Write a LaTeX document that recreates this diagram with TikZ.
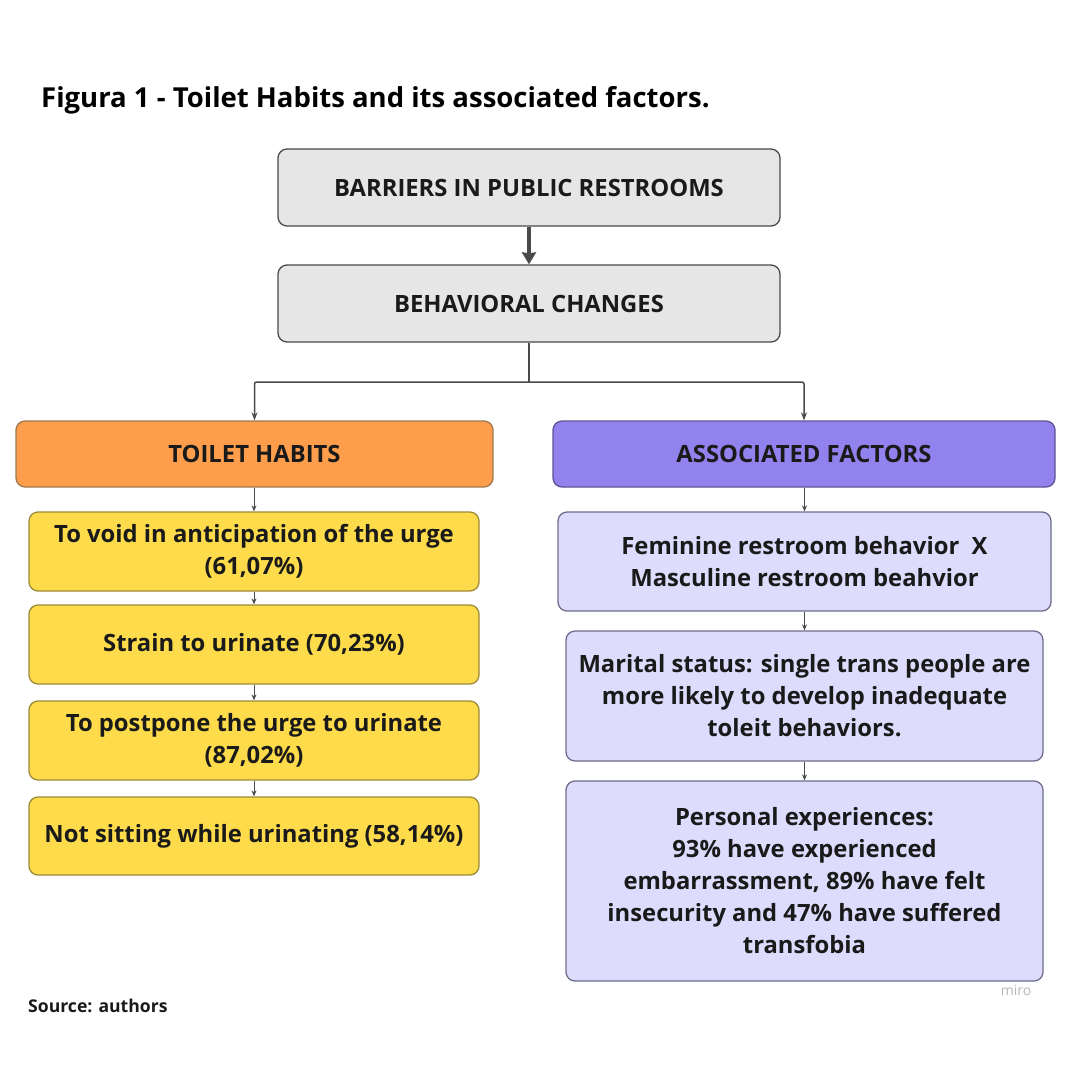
\documentclass[tikz,border=0pt]{standalone}
\usepackage{fontspec}
\setmainfont{Open Sans}[BoldFont={Open Sans Bold}]
\usetikzlibrary{arrows.meta,positioning}
\definecolor{bordergray}{HTML}{4A4A4A}
\definecolor{boxgray}{HTML}{E6E6E6}
\definecolor{orangefill}{HTML}{FE9E4C}
\definecolor{orangeline}{HTML}{A0784F}
\definecolor{purplefill}{HTML}{9282EE}
\definecolor{purpleline}{HTML}{5E5494}
\definecolor{yellowfill}{HTML}{FDDB4A}
\definecolor{yellowline}{HTML}{9E8A3A}
\definecolor{lilacfill}{HTML}{DEDCFD}
\definecolor{lilacline}{HTML}{6E6C8C}
\definecolor{txt}{HTML}{1A1A1A}
\begin{document}
\begin{tikzpicture}[x=1pt,y=-1pt,
  boxbase/.style={rounded corners=9pt,line width=1.3pt,inner sep=0pt,align=center,text=txt,
    font=\bfseries\fontsize{23.8}{32}\selectfont},
  topbox/.style={boxbase,draw=bordergray,fill=boxgray},
  orangebox/.style={boxbase,draw=orangeline,fill=orangefill},
  purplebox/.style={boxbase,draw=purpleline,fill=purplefill},
  yellowbox/.style={boxbase,draw=yellowline,fill=yellowfill},
  lilacbox/.style={boxbase,draw=lilacline,fill=lilacfill},
  smallarrow/.style={draw=bordergray,line width=1pt,-{Stealth[length=6pt,width=5pt]}},
  bigarrow/.style={draw=bordergray,line width=3.8pt,-{Stealth[length=12pt,width=14pt,inset=1pt]}},
  connector/.style={draw=bordergray,line width=1.5pt,-{Stealth[length=8pt,width=6pt]}}
]
\useasboundingbox (0,0) rectangle (1080,1080);
\fill[white] (0,0) rectangle (1080,1080);

\node[anchor=west,inner sep=0pt,text=black,font=\bfseries\fontsize{27.5}{32}\selectfont] (title) at (41,100) {Figura 1 - Toilet Habits and its associated factors.};

\node[topbox,minimum width=502pt,minimum height=77pt] (barriers) at (529,187.5) {BARRIERS IN PUBLIC RESTROOMS};
\node[topbox,minimum width=502pt,minimum height=77pt] (behav) at (529,303.5) {BEHAVIORAL CHANGES};

\node[orangebox,minimum width=477pt,minimum height=66pt] (habits) at (254.5,454) {TOILET HABITS};
\node[purplebox,minimum width=502pt,minimum height=66pt] (factors) at (804,454) {ASSOCIATED FACTORS};

\node[yellowbox,minimum width=450pt,minimum height=79pt] (y1) at (254,551.5) {To void in anticipation of the urge\\(61,07\%)};
\node[yellowbox,minimum width=450pt,minimum height=79pt] (y2) at (254,644.5) {Strain to urinate (70,23\%)};
\node[yellowbox,minimum width=450pt,minimum height=79pt] (y3) at (254,740.5) {To postpone the urge to urinate\\(87,02\%)};
\node[yellowbox,minimum width=450pt,minimum height=78pt] (y4) at (254,836) {Not sitting while urinating (58,14\%)};

\node[lilacbox,minimum width=493pt,minimum height=99pt] (l1) at (804.5,561.5) {Feminine restroom behavior\ \ X\\Masculine restroom beahvior};
\node[lilacbox,minimum width=477pt,minimum height=130pt] (l2) at (804.5,696) {Marital status: single trans people are\\more likely to develop inadequate\\toleit behaviors.};
\node[lilacbox,minimum width=477pt,minimum height=200pt] (l3) at (804.5,881) {Personal experiences:\\93\% have experienced\\embarrassment, 89\% have felt\\insecurity and 47\% have suffered\\transfobia};

\draw[bigarrow] (barriers.south) -- (behav.north);

\coordinate (split) at (529,382);
\draw[draw=bordergray,line width=1.5pt] (behav.south) -- (split);
\draw[connector,rounded corners=2pt] (split) -- (254.5,382) -- (habits.north);
\draw[connector,rounded corners=2pt] (split) -- (804,382) -- (factors.north);

\draw[smallarrow] (habits.south -| y1.north) -- (y1.north);
\draw[smallarrow] (y1.south) -- (y2.north);
\draw[smallarrow] (y2.south) -- (y3.north);
\draw[smallarrow] (y3.south) -- (y4.north);

\draw[smallarrow] (factors.south -| l1.north) -- (l1.north);
\draw[smallarrow] (l1.south -| l2.north) -- (l2.north);
\draw[smallarrow] (l2.south) -- (l3.north);

\node[anchor=west,inner sep=0pt,text=txt,font=\bfseries\fontsize{17.6}{20}\selectfont] (source) at (28,1006) {Source: authors};
\node[text=black!28,font=\fontsize{14}{15}\selectfont] (miro) at (1016,990) {miro};
\end{tikzpicture}
\end{document}
